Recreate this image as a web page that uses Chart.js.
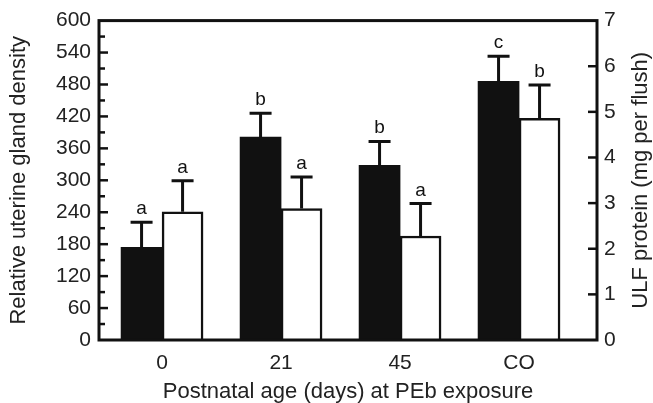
<!DOCTYPE html>
<html>
<head>
<meta charset="utf-8">
<script src="https://cdn.jsdelivr.net/npm/chart.js@4/dist/chart.umd.min.js"></script>
<style>
  html, body { margin: 0; padding: 0; background: #fff; }
  #wrap { width: 653px; height: 403px; }
</style>
</head>
<body>
<div id="wrap"><canvas id="myChart" width="653" height="403"></canvas></div>
<script>
// ----- donnees -----
var categories = ['0', '21', '45', 'CO'];
var glandDensity = [174, 381, 328, 486];
var glandErr = [47, 45, 45, 47];
var glandLetters = ['a', 'b', 'b', 'c'];
var ulfProtein = [2.81, 2.88, 2.28, 4.86];
var ulfErr = [0.68, 0.69, 0.71, 0.73];
var ulfLetters = ['a', 'a', 'a', 'b'];
var leftTicks = [0, 60, 120, 180, 240, 300, 360, 420, 480, 540, 600];
var rightTicks = [0, 1, 2, 3, 4, 5, 6, 7];

var ink = '#111';
var font = 'Liberation Sans, Arial, Helvetica, sans-serif';

// points {x, y} sur un axe lineaire
function pts(vals) { return vals.map((v, i) => ({x: i, y: v})); }

// barres d'erreur + lettres
const errorBars = {
    id: 'errorBars',
    afterDatasetsDraw(chart) {
        const ctx = chart.ctx;
        const sets = [
            {idx: 0, err: glandErr, letters: glandLetters, axis: 'y'},
            {idx: 1, err: ulfErr, letters: ulfLetters, axis: 'y1'}
        ];
        ctx.save();
        ctx.strokeStyle = ink;
        ctx.lineWidth = 3;
        ctx.fillStyle = ink;
        ctx.font = '19px ' + font;
        ctx.textAlign = 'center';
        ctx.textBaseline = 'alphabetic';
        sets.forEach(s => {
            const meta = chart.getDatasetMeta(s.idx);
            const scale = chart.scales[s.axis];
            const vals = chart.data.datasets[s.idx].data;
            meta.data.forEach((bar, i) => {
                const x = bar.x;
                const y0 = scale.getPixelForValue(vals[i].y);
                const y1 = scale.getPixelForValue(vals[i].y + s.err[i]);
                ctx.beginPath();
                ctx.moveTo(x, y0);
                ctx.lineTo(x, y1);
                ctx.moveTo(x - 11, y1);
                ctx.lineTo(x + 11, y1);
                ctx.stroke();
                ctx.fillText(s.letters[i], x, y1 - 8);
            });
        });
        ctx.restore();
    }
};

// cadre, graduations interieures, titre de droite
const frame = {
    id: 'frame',
    afterDraw(chart) {
        const ctx = chart.ctx;
        const a = chart.chartArea;
        const yl = chart.scales.y, yr = chart.scales.y1;
        ctx.save();
        ctx.strokeStyle = ink;
        ctx.lineWidth = 2.5;
        // graduations gauche (majeures 60, mineures 30)
        yl.ticks.forEach(t => {
            if (t.value <= 0 || t.value >= 600) return;
            const py = yl.getPixelForValue(t.value);
            const len = (t.value % 60 === 0) ? 9 : 6;
            ctx.beginPath();
            ctx.moveTo(a.left, py);
            ctx.lineTo(a.left + len, py);
            ctx.stroke();
        });
        // graduations droite
        yr.ticks.forEach(t => {
            if (t.value <= 0 || t.value >= 7) return;
            const py = yr.getPixelForValue(t.value);
            ctx.beginPath();
            ctx.moveTo(a.right, py);
            ctx.lineTo(a.right - 9, py);
            ctx.stroke();
        });
        ctx.lineWidth = 3;
        ctx.strokeRect(a.left, a.top, a.right - a.left, a.bottom - a.top);
        // titre axe droit (lecture de bas en haut)
        ctx.fillStyle = '#222';
        ctx.font = '22px ' + font;
        ctx.textAlign = 'center';
        ctx.textBaseline = 'middle';
        ctx.translate(641, (a.top + a.bottom) / 2);
        ctx.rotate(-Math.PI / 2);
        ctx.fillText('ULF protein (mg per flush)', 0, 0);
        ctx.restore();
    }
};

const data = {
    datasets: [{
        label: 'gland density',
        data: pts(glandDensity),
        yAxisID: 'y',
        backgroundColor: ink,
        borderColor: ink,
        borderWidth: 0,
        barThickness: 41
    }, {
        label: 'ULF protein',
        data: pts(ulfProtein),
        yAxisID: 'y1',
        backgroundColor: '#fff',
        borderColor: ink,
        borderWidth: 2.5,
        borderSkipped: 'bottom',
        barThickness: 41
    }]
};

const config = {
    type: 'bar',
    data,
    plugins: [errorBars, frame],
    options: {
        responsive: false,
        animation: false,
        layout: { autoPadding: false, padding: {top: 20, left: 0, right: 0, bottom: 0} },
        plugins: { legend: {display: false}, tooltip: {enabled: false} },
        scales: {
            x: {
                type: 'linear',
                offset: false,
                min: -0.53,
                max: 3.655,
                grid: {display: false, drawTicks: false},
                border: {display: false},
                afterBuildTicks: (s) => { s.ticks = categories.map((c, i) => ({value: i})); },
                afterFit: (s) => { s.height = 63; },
                ticks: {
                    padding: 11,
                    color: '#222',
                    font: {family: font, size: 21},
                    callback: (v) => categories[v]
                },
                title: {
                    display: true,
                    text: 'Postnatal age (days) at PEb exposure',
                    color: '#222',
                    font: {family: font, size: 22, lineHeight: 1},
                    padding: {top: 0, bottom: 0}
                }
            },
            y: {
                position: 'left',
                min: 0,
                max: 600,
                grid: {display: false, drawTicks: false},
                border: {display: false},
                afterFit: (s) => { s.width = 99; },
                ticks: {
                    stepSize: 30,
                    autoSkip: false,
                    padding: 8,
                    color: '#222',
                    font: {family: font, size: 21},
                    callback: (v) => leftTicks.includes(v) ? v : ''
                },
                title: {
                    display: true,
                    text: 'Relative uterine gland density',
                    color: '#222',
                    font: {family: font, size: 22, lineHeight: 1},
                    padding: {top: 8, bottom: 0}
                }
            },
            y1: {
                position: 'right',
                min: 0,
                max: 7,
                grid: {display: false, drawTicks: false},
                border: {display: false},
                afterFit: (s) => { s.width = 56; },
                ticks: {
                    stepSize: 1,
                    autoSkip: false,
                    padding: 7,
                    color: '#222',
                    font: {family: font, size: 21},
                    callback: (v) => rightTicks.includes(v) ? v : ''
                }
            }
        }
    }
};

const myChart = new Chart(document.getElementById('myChart').getContext('2d'), config);
</script>
</body>
</html>
